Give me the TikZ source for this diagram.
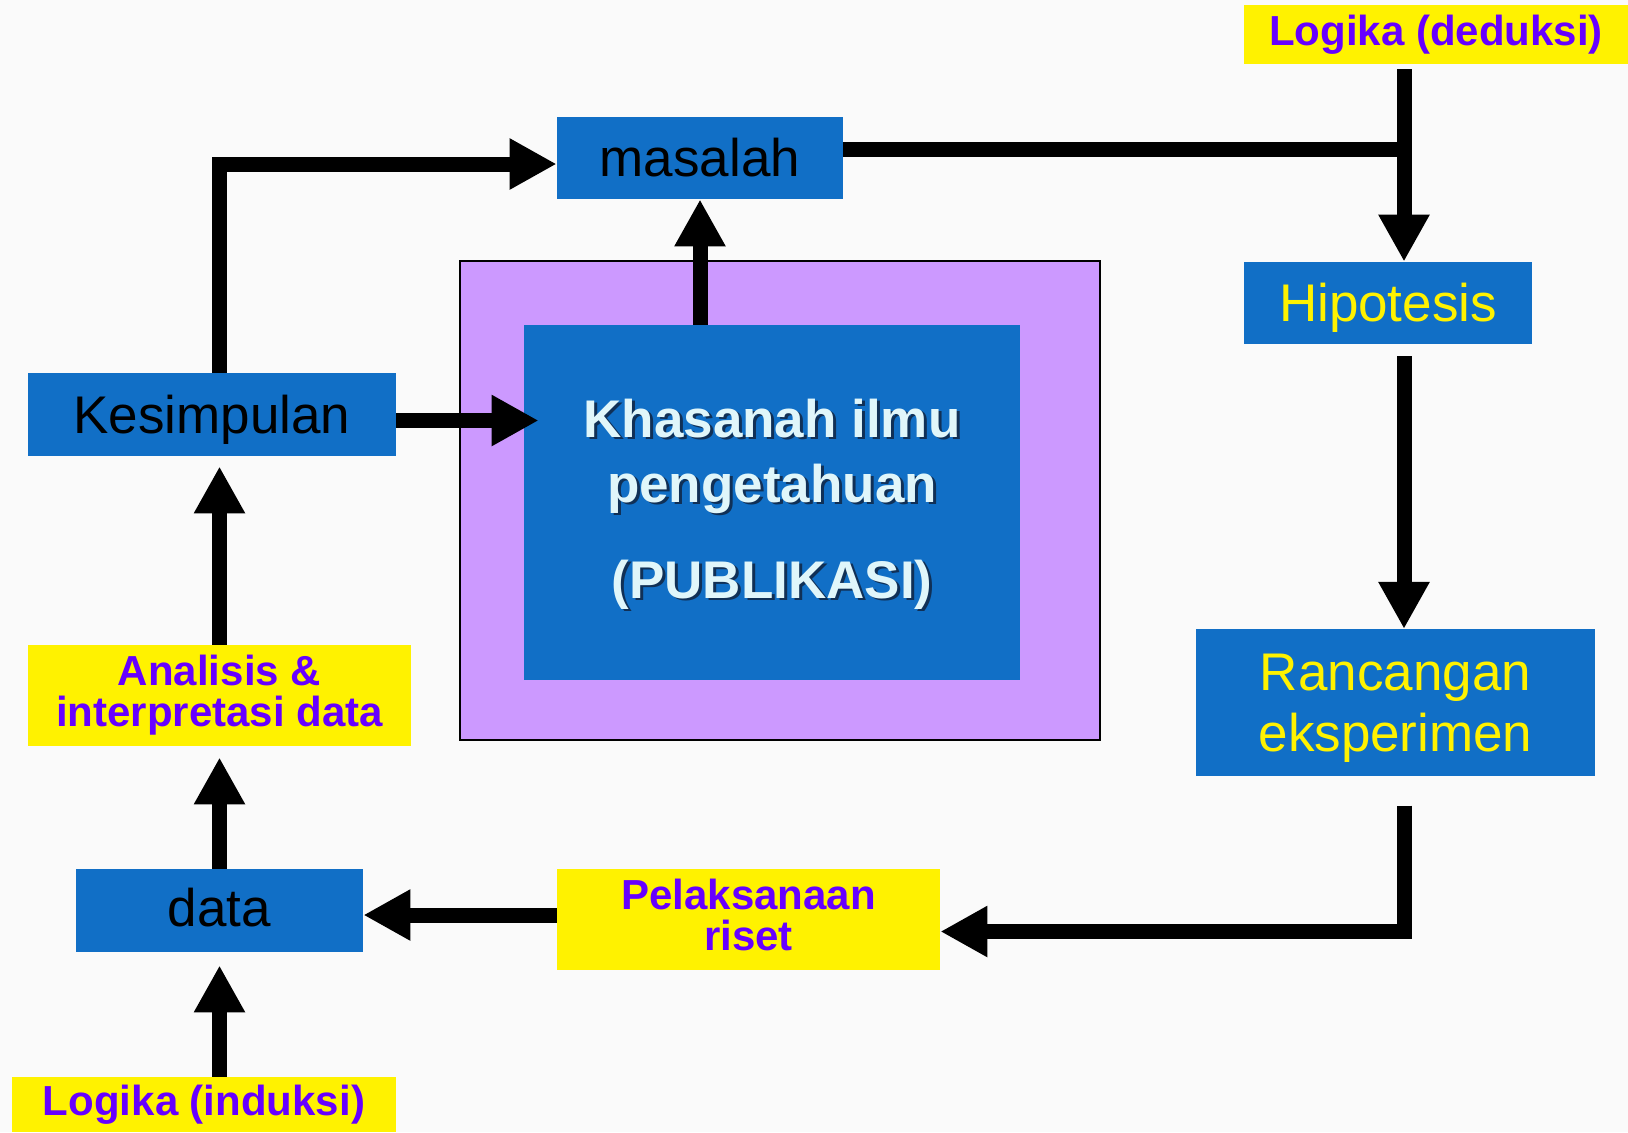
\documentclass[tikz,border=0pt]{standalone}
\usepackage{fontspec}
\setmainfont{Liberation Sans}
\usetikzlibrary{arrows.meta}

\definecolor{boxblue}{RGB}{17,111,198}
\definecolor{lilac}{RGB}{204,153,255}
\definecolor{labelviolet}{RGB}{102,0,255}
\definecolor{palecyan}{RGB}{224,246,250}
\definecolor{shadowblue}{RGB}{16,48,86}
\definecolor{bgwhite}{RGB}{250,250,250}

\tikzset{
  bluebox/.style={fill=boxblue, inner sep=0pt, align=center, font=\fontsize{26.5}{30.85}\selectfont},
  oneline/.style={text height=20pt, text depth=1.3pt},
  yellowbox/.style={fill=yellow, inner sep=0pt, align=center, text=labelviolet, font=\fontsize{21}{20.5}\selectfont\bfseries},
  flow/.style={line width=7.5pt, -{Triangle[length=23.5pt,width=24pt]}},
  khtext/.style={align=center, font=\fontsize{26.5}{32.5}\selectfont\bfseries}
}

\begin{document}
\begin{tikzpicture}[x=0.5pt, y=-0.5pt]
  \fill [bgwhite] (0,0) rectangle (1628,1132);
  \useasboundingbox (0,0) rectangle (1628,1132);

  % Khasanah ilmu pengetahuan
  \node [fill=lilac, draw=black, line width=1pt, minimum width=320pt, minimum height=239.5pt] (outer) at (780,500.5) {};
  \node [fill=boxblue, minimum width=248pt, minimum height=177.5pt] (inner) at (772,502.5) {};
  \node [khtext, text=shadowblue] (khshadow) at ([xshift=1.5pt,yshift=-2pt]inner.center) {Khasanah ilmu\\pengetahuan\\[15.5pt](PUBLIKASI)};
  \node [khtext, text=palecyan] (khasanah) at ([yshift=-1pt]inner.center) {Khasanah ilmu\\pengetahuan\\[15.5pt](PUBLIKASI)};

  % blue boxes
  \node [bluebox, oneline, minimum width=143pt, minimum height=41pt] (masalah) at (700,158) {masalah};
  \node [bluebox, oneline, minimum width=144pt, minimum height=41pt, text=yellow] (hip) at (1388,303) {Hipotesis};
  \node [bluebox, minimum width=199.5pt, minimum height=73.5pt, text=yellow] (ran) at (1395.5,702.8) {\rule{0pt}{23.65pt}Rancangan\\eksperimen};
  \node [bluebox, oneline, minimum width=184pt, minimum height=41.5pt] (kes) at (212,414.5) {Kesimpulan};
  \node [bluebox, oneline, text depth=4.3pt, minimum width=143.5pt, minimum height=41.5pt] (data) at (219.5,910.5) {data};

  % yellow labels
  \node [yellowbox, minimum width=192pt, minimum height=29.5pt] (deduksi) at (1436,34.5) {Logika (deduksi)};
  \node [yellowbox, minimum width=191.5pt, minimum height=50.5pt] (ana) at (219.5,695.5) {Analisis \&\\interpretasi data};
  \node [yellowbox, minimum width=191.5pt, minimum height=50.5pt] (pel) at (748.5,919.5) {Pelaksanaan\\riset\vphantom{p}};
  \node [yellowbox, minimum width=192pt, minimum height=27.5pt] (induksi) at (204,1104.5) {Logika (induksi)};

  % connectors
  \coordinate (jn) at (1404,149);
  \draw [flow] (kes.north -| ana.north) |- ([yshift=-3pt]masalah.west);
  \draw [flow] (masalah.south |- inner.north) -- (masalah.south);
  \draw [flow, shorten >=-7.5pt] ([yshift=-3pt]kes.east) -- ([yshift=-3pt]kes.east -| inner.west);
  \draw [line width=7.5pt] ([yshift=4.5pt]masalah.east) -- (jn);
  \draw [flow, shorten <=2.5pt] (jn |- deduksi.south) -- (jn |- hip.north);
  \draw [flow, shorten <=6pt] (jn |- hip.south) -- (jn |- ran.north);
  \draw [flow, shorten <=14.5pt] (jn |- ran.south) |- ([yshift=-6pt]pel.east);
  \draw [flow] ([yshift=2.25pt]pel.west) -- ([yshift=2.25pt]pel.west -| data.east);
  \draw [flow, shorten >=5.5pt] (data.north) -- (ana.south);
  \draw [flow, shorten >=5pt] (ana.north) -- (ana.north |- kes.south);
  \draw [flow, shorten >=6.5pt] (induksi.north -| data.north) -- (data.south);
\end{tikzpicture}
\end{document}
